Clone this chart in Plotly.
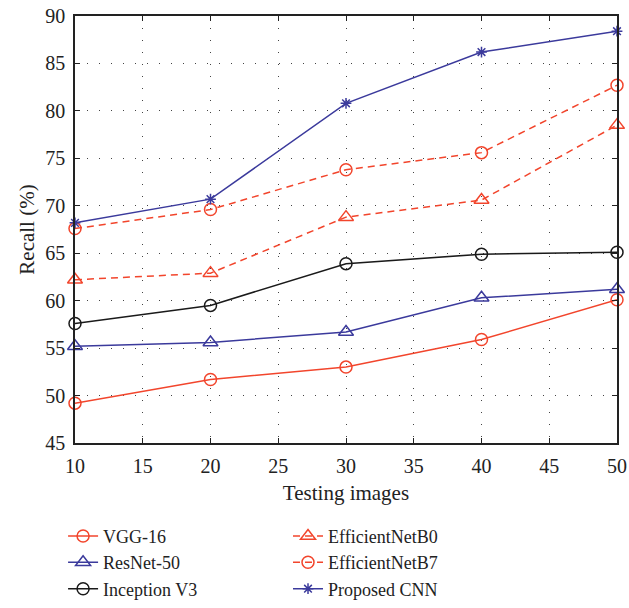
import plotly.graph_objects as go

x_vals = [10, 20, 30, 40, 50]
vgg16 = [49.2, 51.7, 53.0, 55.9, 60.1]
resnet50 = [55.2, 55.6, 56.7, 60.3, 61.2]
inception_v3 = [57.6, 59.5, 63.9, 64.9, 65.1]
effnet_b0 = [62.2, 62.9, 68.8, 70.6, 78.5]
effnet_b7 = [67.6, 69.6, 73.8, 75.6, 82.7]
proposed = [68.2, 70.7, 80.8, 86.2, 88.4]

RED = "#f2452c"
BLUE = "#3b3a9c"
BLACK = "#1a1a1a"

series = [
    ("VGG-16", vgg16, RED, "solid", "circle-open", 12, "legend"),
    ("ResNet-50", resnet50, BLUE, "solid", "triangle-up-open", 13, "legend"),
    ("Inception V3", inception_v3, BLACK, "solid", "circle-open", 12, "legend"),
    ("EfficientNetB0", effnet_b0, RED, "dash", "triangle-up-open", 13, "legend2"),
    ("EfficientNetB7", effnet_b7, RED, "dash", "circle-open", 12, "legend2"),
    ("Proposed CNN", proposed, BLUE, "solid", "asterisk-open", 9, "legend2"),
]

fig = go.Figure()
for name, ys, color, dash, sym, size, leg in series:
    fig.add_trace(go.Scatter(
        x=x_vals, y=ys, name=name, mode="lines+markers",
        line=dict(color=color, width=1.5, dash="7px,5px" if dash == "dash" else "solid"),
        marker=dict(symbol=sym, size=size, color=color, line=dict(color=color, width=1.5)),
        legend=leg, cliponaxis=False,
    ))

font_family = "Liberation Serif, DejaVu Serif, serif"
FS = 18
TFS = 20
TITLE_FS = 21
axis_common = dict(
    showline=True, linecolor="#222", linewidth=1.5, mirror="ticks",
    ticks="inside", ticklen=5, tickcolor="#222",
    showgrid=True, gridcolor="#444", gridwidth=1, griddash="1px,11px",
    zeroline=False, tickfont=dict(size=TFS, color="#222", family=font_family),
)
leg_common = dict(orientation="v", yanchor="top", y=-0.175, xanchor="left",
                  font=dict(size=FS, color="#222", family=font_family),
                  bgcolor="rgba(0,0,0,0)", tracegroupgap=0, itemwidth=30)
fig.update_layout(
    width=629, height=608,
    margin=dict(l=75, r=12, t=16, b=165, autoexpand=False),
    paper_bgcolor="white", plot_bgcolor="white",
    font=dict(family=font_family, color="#222", size=FS),
    xaxis=dict(range=[10, 50], dtick=5, ticklabelstandoff=4,
               title=dict(text="Testing images", font=dict(size=TITLE_FS), standoff=10), **axis_common),
    yaxis=dict(range=[45, 90], dtick=5, ticklabelstandoff=4,
               title=dict(text="Recall (%)", font=dict(size=TITLE_FS), standoff=5), **axis_common),
    legend=dict(x=-0.022, **leg_common),
    legend2=dict(x=0.393, **leg_common),
)
fig.write_html("out.html")
